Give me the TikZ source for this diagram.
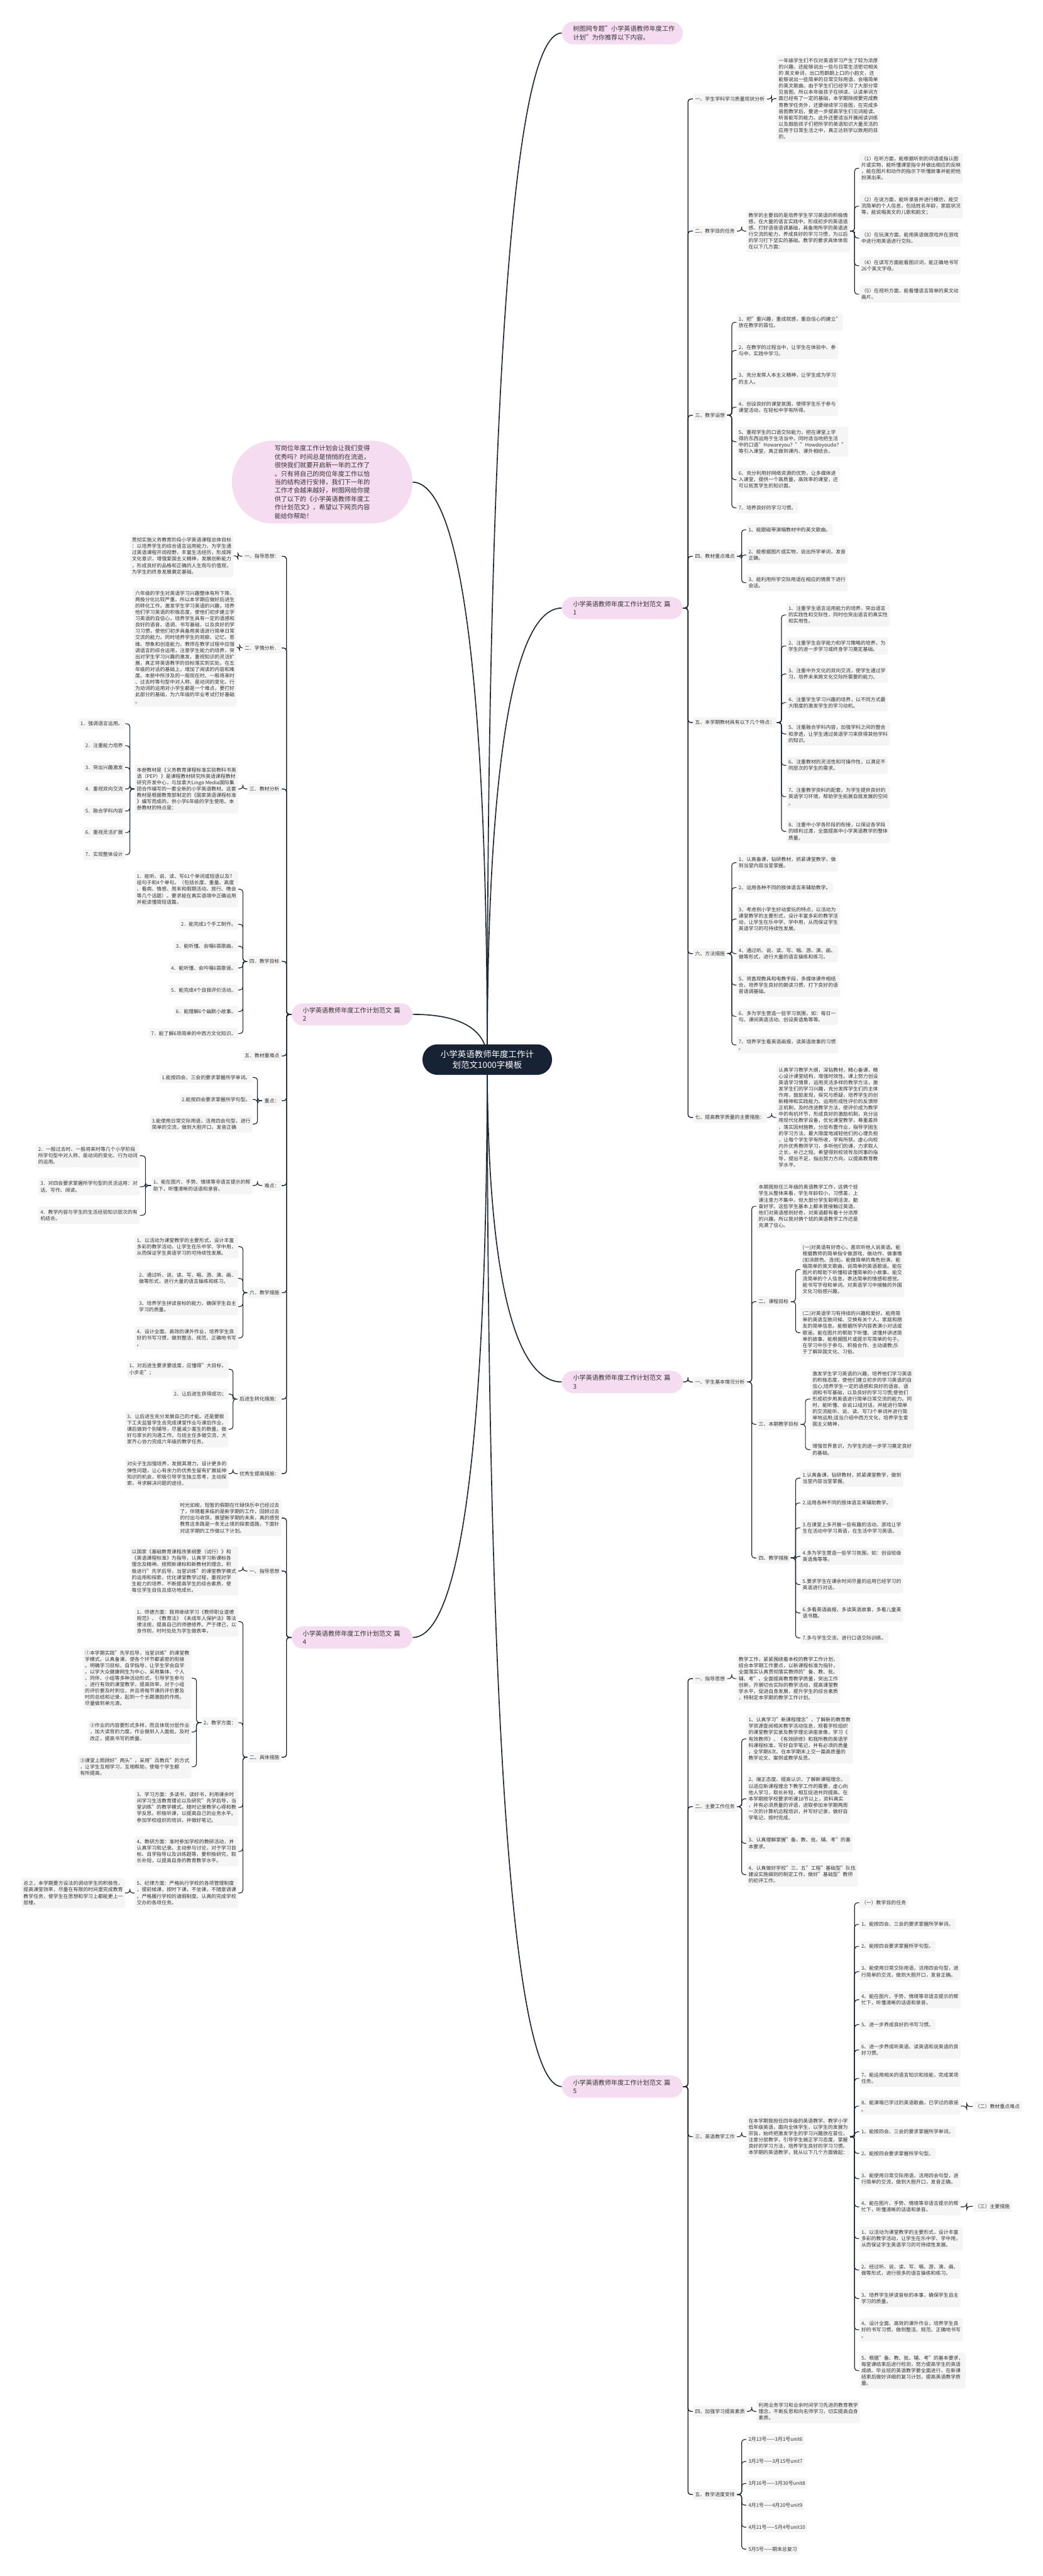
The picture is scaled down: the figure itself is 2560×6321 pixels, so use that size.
\documentclass[tikz,border=0pt]{standalone}
\usepackage{fontspec}
\setmainfont{Noto Sans CJK SC}
\usetikzlibrary{calc}
\pgfdeclarelayer{bg}
\pgfsetlayers{bg,main}
\definecolor{ln}{HTML}{1E2938}
\definecolor{txt}{HTML}{333333}
\definecolor{boxf}{HTML}{F5F5F5}
\definecolor{pinkf}{HTML}{F5DCF0}
\definecolor{rootf}{HTML}{172334}
\newcommand\fsS{\fontsize{12.2pt}{15.6pt}\selectfont}
\newcommand\fsM{\fontsize{15.6pt}{21pt}\selectfont}
\newcommand\fsI{\fontsize{15.6pt}{20.7pt}\selectfont}
\newcommand\fsL{\fontsize{20.8pt}{27pt}\selectfont}
\newcommand\rjoin[3]{\foreach \c in {#3}{\draw[#1] (#2.east) -| ($(#2.east)!.5!(\c.west)$) |- (\c.west);}}
\newcommand\ljoin[3]{\foreach \c in {#3}{\draw[#1] (#2.west) -| ($(#2.west)!.5!(\c.east)$) |- (\c.east);}}
\tikzset{
  bx/.style={font=\fsS, text=txt, fill=boxf, rounded corners=3pt, inner xsep=5pt, inner ysep=7.5pt, align=left},
  rb/.style={bx, anchor=west},
  lb/.style={bx, anchor=east},
  pinkn/.style={fill=pinkf, rounded corners=28pt, font=\fsM, text=txt, align=left, text width=242pt, inner xsep=27.5pt, inner ysep=10pt},
  rootn/.style={fill=rootf, text=white, font=\fsL, align=center, minimum width=318pt, minimum height=75pt, rounded corners=37pt, inner sep=0pt},
  trunk/.style={draw=ln, line width=2.6pt},
  lkA/.style={draw=ln, line width=2.2pt, rounded corners=7pt},
  lkB/.style={draw=ln, line width=1.8pt, rounded corners=7pt},
}
\begin{document}
\begin{tikzpicture}[x=1pt,y=-1pt]
\useasboundingbox (0,0) rectangle (2560,6321);
% ---------------- root ----------------
\node[rootn] (root) at (1196,2600) {小学英语教师年度工作计\\划范文1000字模板};
% ---------------- right: header ----------------
\node[pinkn, anchor=west] (hd) at (1379,81) {树图网专题"小学英语教师年度工作\\计划"为你推荐以下内容。};
% ---------------- 篇1 ----------------
\node[pinkn, anchor=west] (p1) at (1379,1492) {小学英语教师年度工作计划范文 篇\\1};
\node[rb] (a1) at (1701,243) {一、学生学科学习质量现状分析};
\node[rb] (a1t) at (1906,242) {一年级学生们不仅对英语学习产生了较为浓厚\\的兴趣，还能够说出一些与日常生活密切相关\\的 英文单词，出口而朗朗上口的小韵文，还\\能够说出一些简单的日常交际用语，会唱简单\\的英文歌曲。由于学生们已经学习了大部分常\\见音图，所以本年级孩子在拼读、认读单词方\\面已经有了一定的基础，本学期除按要完成教\\育教学任务外，还要继续学习音图，在完成多\\音图教学后，要进一步提高学生们见词能读、\\听音能写的能力。此外还要适当开展阅读训练\\以及鼓励孩子们把所学的英语知识大量灵活的\\应用于日常生活之中，真正达到学以致用的目\\的。};
\node[rb] (a2) at (1701,567) {二、教学目的任务};
\node[rb] (a2t) at (1832,567) {教学的主要目的是培养学生学习英语的积极情\\感，在大量的语言实践中，形成初步的英语语\\感、打好语音语调基础，具备用所学的英语进\\行交流的能力，养成良好的学习习惯，为以后\\的学习打下坚实的基础。教学的要求具体体现\\在以下几方面：};
\node[rb] (a2c1) at (2109,413) {（1）在听方面，能根据听到的词语或指认图\\片或实物，能听懂课堂指令并做出相应的反映\\，能在图片和动作的指示下听懂故事并能把他\\扮演出来。};
\node[rb] (a2c2) at (2109,506) {（2）在说方面，能听录音并进行模仿，能交\\流简单的个人信息，包括姓名年龄，家庭状况\\等，能说唱英文的儿歌和韵文；};
\node[rb] (a2c3) at (2109,584) {（3）在玩演方面，能用英语做游戏并在游戏\\中进行用英语进行交际。};
\node[rb] (a2c4) at (2109,652) {（4）在读写方面能看图识词，能正确地书写\\26个英文字母。};
\node[rb] (a2c5) at (2109,722) {（5）在视听方面，能看懂语言简单的英文动\\画片。};
\node[rb] (a3) at (1701,1019) {三、教学设想};
\node[rb] (a3c1) at (1808,791) {1、把"重兴趣，重成就感，重自信心的建立"\\放在教学的首位。};
\node[rb] (a3c2) at (1808,860) {2、在教学的过程当中，让学生在体验中、参\\与中、实践中学习。};
\node[rb] (a3c3) at (1808,929) {3、充分发挥人本主义精神，让学生成为学习\\的主人。};
\node[rb] (a3c4) at (1808,999) {4、创设良好的课堂氛围，使得学生乐于参与\\课堂活动，在轻松中学有所得。};
\node[rb] (a3c5) at (1808,1084) {5、重视学生的口语交际能力，把在课堂上学\\得的东西运用于生活当中，同时适当地把生活\\中的口语"Howareyou？""Howdoyoudo？"\\等引入课堂，真正做到课内、课外相结合。};
\node[rb] (a3c6) at (1808,1177) {6、充分利用好网络资源的优势，让多媒体进\\入课堂，提供一个高质量，高效率的课堂，还\\可以拓宽学生的知识面。};
\node[rb] (a3c7) at (1808,1246) {7、培养良好的学习习惯。};
\node[rb] (a4) at (1701,1365) {四、教材重点难点};
\node[rb] (a4c1) at (1832,1300) {1、能跟磁带演唱教材中的英文歌曲。};
\node[rb] (a4c2) at (1832,1362) {2、能根据图片或实物，说出所学单词，发音\\正确。};
\node[rb] (a4c3) at (1832,1430) {3、能利用所学交际用语在相应的情景下进行\\会话。};
\node[rb] (a5) at (1701,1773) {五、本学期教材具有以下几个特点：};
\node[rb] (a5c1) at (1930,1509) {1、注重学生语言运用能力的培养，突出语言\\的实践性和交际性，同时也突出语言的真实性\\和实用性。};
\node[rb] (a5c2) at (1930,1585) {2、注重学生自学能力和学习策略的培养，为\\学生的进一步学习或终身学习奠定基础。};
\node[rb] (a5c3) at (1930,1654) {3、注重中外文化的双向交流，使学生通过学\\习，培养未来跨文化交际所需要的能力。};
\node[rb] (a5c4) at (1930,1724) {4、注重学生学习兴趣的培养，以不同方式最\\大限度的激发学生的学习动机。};
\node[rb] (a5c5) at (1930,1801) {5、注重融合学科内容，加强学科之间的整合\\和渗透，让学生通过英语学习来获得其他学科\\的知识。};
\node[rb] (a5c6) at (1930,1878) {6、注重教材的灵活性和可操作性，以满足不\\同层次的学生的需求。};
\node[rb] (a5c7) at (1930,1955) {7、注重教学资料的配套，为学生提供良好的\\英语学习环境，帮助学生拓展自我发展的空间\\。};
\node[rb] (a5c8) at (1930,2040) {8、注重中小学各阶段的衔接，以保证各学段\\的顺利过渡，全面提高中小学英语教学的整体\\质量。};
\node[rb] (a6) at (1701,2340) {六、方法措施};
\node[rb] (a6c1) at (1808,2117) {1、认真备课，钻研教材，抓紧课堂教学，做\\到当堂内容当堂掌握。};
\node[rb] (a6c2) at (1808,2178) {2、运用各种不同的肢体语言来辅助教学。};
\node[rb] (a6c3) at (1808,2255) {3、考虑到小学生好动爱玩的特点，以活动为\\课堂教学的主要形式，设计丰富多彩的教学活\\动，让学生在乐中学、学中用，从而保证学生\\英语学习的可持续性发展。};
\node[rb] (a6c4) at (1808,2340) {4、通过听、说、读、写、唱、游、演、画、\\做等形式，进行大量的语言操练和练习。};
\node[rb] (a6c5) at (1808,2417) {5、将直观教具和电教手段，多媒体课件相结\\合，培养学生良好的朗读习惯，打下良好的语\\音语调基础。};
\node[rb] (a6c6) at (1808,2494) {6、多为学生营造一些学习氛围，如：每日一\\句、课间英语活动、创设英语角等等。};
\node[rb] (a6c7) at (1808,2564) {7、培养学生看英语画报，读英语故事的习惯\\。};
\node[rb] (a7) at (1701,2742) {七、提高教学质量的主要措施：};
\node[rb] (a7t) at (1906,2742) {认真学习教学大纲，深钻教材，精心备课，精\\心设计课堂结构，增强时效性。课上努力创设\\英语学习情景，运用灵活多样的教学方法，激\\发学生们的学习兴趣，充分发挥学生们的主体\\作用，鼓励发现，探究与质疑，培养学生的创\\新精神和实践能力。运用形成性评价的反馈矫\\正机制，及时改进教学方法，使评价成为教学\\中的有机环节，形成良好的激励机制，充分运\\用现代化教学设备，优化课堂教学，尊重差异\\，落实因材施教，分层布置作业，指导学困生\\的学习方法，最大限度地减轻他们的心理负担\\，让每个学生学有所收，学有所获。虚心向校\\内外优秀教师学习，多听他们的课，力求取人\\之长，补己之短。希望得到校领导及同事的指\\导，提出不足，指出努力方向，以提高教育教\\学水平。};
% ---------------- 篇3 ----------------
\node[pinkn, anchor=west] (p3) at (1379,3391) {小学英语教师年度工作计划范文 篇\\3};
\node[rb] (b1) at (1701,3391) {一、学生基本情况分析};
\node[rb] (b1t) at (1857,2960) {本期我担任三年级的英语教学工作，这俩个班\\学生从整体来看，学生年龄较小，习惯差，上\\课注意力不集中。但大部分学生聪明活泼、勤\\奋好学。这些学生基本上都未曾接触过英语，\\他们对英语感到好奇，对英语都有着十分浓厚\\的兴趣。所以我对俩个班的英语教学工作还是\\充满了信心。};
\node[rb] (b2) at (1857,3194) {二、课程目标};
\node[rb] (b2c1) at (1965,3115) {(一)对英语有好奇心，喜欢听他人说英语。能\\根据教师的简单指令做游戏、做动作、做事情\\(如涂颜色、连线)。能做简单的角色扮演，能\\唱简单的英文歌曲，说简单的英语歌谣。能在\\图片的帮助下听懂和读懂简单的小故事。能交\\流简单的个人信息，表达简单的情感和感觉。\\能书写字母和单词。对英语学习中接触的外国\\文化习俗感兴趣。};
\node[rb] (b2c2) at (1965,3270) {(二)对英语学习有持续的兴趣和爱好。能用简\\单的英语互致问候、交换有关个人、家庭和朋\\友的简单信息。能根据所学内容表演小对话或\\歌谣。能在图片的帮助下听懂、读懂并讲述简\\单的故事。能根据图片或提示写简单的句子。\\在学习中乐于参与、积极合作、主动请教;乐\\于了解异国文化、习俗。};
\node[rb] (b3) at (1857,3495) {三、本期教学目标};
\node[rb] (b3c1) at (1989,3433) {激发学生学习英语的兴趣，培养他们学习英语\\的积极态度，使他们建立初步的学习英语的自\\信心;培养学生一定的语感和良好的语音、语\\调和书写基础，以及良好的学习习惯;使他们\\形成初步用英语进行简单日常交流的能力。同\\时，能听懂、会说12组对话，并能进行简单\\的交流能听、说、读、写73个单词并进行简\\单地运用;适当介绍中西方文化，培养学生爱\\国主义精神，};
\node[rb] (b3c2) at (1989,3557) {增强世界意识，为学生的进一步学习奠定良好\\的基础。};
\node[rb] (b4) at (1857,3823) {四、教学措施};
\node[rb] (b4c1) at (1965,3627) {1.认真备课，钻研教材，抓紧课堂教学，做到\\当堂内容当堂掌握。};
\node[rb] (b4c2) at (1965,3688) {2.运用各种不同的肢体语言来辅助教学。};
\node[rb] (b4c3) at (1965,3749) {3.在课堂上多开展一些有趣的活动、游戏让学\\生在活动中学习英语，在生活中学习英语。};
\node[rb] (b4c4) at (1965,3819) {4.多为学生营造一些学习氛围，如：创设班级\\英语角等等。};
\node[rb] (b4c5) at (1965,3888) {5.要求学生在课余时间尽量的运用已经学习的\\英语进行对话。};
\node[rb] (b4c6) at (1965,3958) {6.多看英语画报，多读英语故事，多看儿童英\\语书籍。};
\node[rb] (b4c7) at (1965,4019) {7.多与学生交流，进行口语交际训练。};
% ---------------- 篇5 ----------------
\node[pinkn, anchor=west] (p5) at (1379,5120) {小学英语教师年度工作计划范文 篇\\5};
\node[rb] (c1) at (1701,4119) {一、指导思想};
\node[rb] (c1t) at (1808,4119) {教学工作，紧紧围绕着本校的教学工作计划，\\结合本学期工作要点，以新课程标准为指针，\\全面落实认真贯彻落实教师的"备、教、批、\\辅、考"。全面提高教育教学质量，突出工作\\创新，开展切合实际的教学活动，提高课堂教\\学水平，促进自身发展，提升学生的综合素质\\，特制定本学期的教学工作计划。};
\node[rb] (c2) at (1701,4433) {二、主要工作任务};
\node[rb] (c2c1) at (1832,4267) {1、认真学习"新课程理念"，了解新的教育教\\学资源查阅相关教学活动信息，观看学校组织\\的课堂教学实录及教学理论讲座录像，学习《\\有效教师》、《有效研修》和我所教的英语学\\科课程标准，写好自学笔记，并有必须的质量\\，全学期8次。在本学期末上交一篇高质量的\\教学论文、案例或教学反思。};
\node[rb] (c2c2) at (1832,4414) {2、端正态度、提高认识，了解新课程理念，\\以适应新课程理念下教学工作的需要，虚心向\\他人学习，取长补短，相互促进共同提高。在\\本学期按学校要求听课18节以上，资料真实\\，并有必须质量的评语，进取参加本学期两周\\一次的计算机远程培训，并写好记录，做好自\\学笔记，按时完成。};
\node[rb] (c2c3) at (1832,4523) {3、认真理解掌握"备、教、批、辅、考"的基\\本要求。};
\node[rb] (c2c4) at (1832,4600) {4、认真做好学校"三、五"工程"基础型"队伍\\建设实施细则的制定工作，做好"基础型"教师\\的初评工作。};
\node[rb] (c3) at (1701,5243) {三、英语教学工作};
\node[rb] (c3t) at (1832,5243) {在本学期我担任四年级的英语教学。教学小学\\低年级英语，面向全体学生，以学生的发展为\\宗旨，始终把激发学生的学习兴趣放在首位，\\注意分层教学，引导学生端正学习态度，掌握\\良好的学习方法，培养学生良好的学习习惯。\\本学期的英语教学，我从以下几个方面做起：};
\node[rb] (d1) at (2109,4669) {（一）教学目的任务};
\node[rb] (d2) at (2109,4722) {1、能按四会、三会的要求掌握所学单词。};
\node[rb] (d3) at (2109,4776) {2、能按四会要求掌握所学句型。};
\node[rb] (d4) at (2109,4838) {3、能使用日常交际用语，活用四会句型，进\\行简单的交流，做到大胆开口，发音正确。};
\node[rb] (d5) at (2109,4907) {4、能在图片、手势、情境等非语言提示的帮\\忙下，听懂清晰的话语和录音。};
\node[rb] (d6) at (2109,4968) {5、进一步养成良好的书写习惯。};
\node[rb] (d7) at (2109,5030) {6、进一步养成听英语、读英语和说英语的良\\好习惯。};
\node[rb] (d8) at (2109,5100) {7、能运用相关的语言知识和技能，完成某项\\任务。};
\node[rb] (d9) at (2109,5168) {8、能演唱已学过的英语歌曲，已学过的歌谣\\。};
\node[rb] (d10) at (2109,5231) {1、能按四会、三会的要求掌握所学单词。};
\node[rb] (d11) at (2109,5284) {2、能按四会要求掌握所学句型。};
\node[rb] (d12) at (2109,5346) {3、能使用日常交际用语，活用四会句型，进\\行简单的交流，做到大胆开口，发音正确。};
\node[rb] (d13) at (2109,5415) {4、能在图片、手势、情境等非语言提示的帮\\忙下，听懂清晰的话语和录音。};
\node[rb] (d14) at (2109,5493) {1、以活动为课堂教学的主要形式，设计丰富\\多彩的教学活动，让学生在乐中学、学中用，\\从而保证学生英语学习的可持续性发展。};
\node[rb] (d15) at (2109,5570) {2、经过听、说、读、写、唱、游、演、画、\\做等形式，进行很多的语言操练和练习。};
\node[rb] (d16) at (2109,5640) {3、培养学生拼读音标的本事，确保学生自主\\学习的质量。};
\node[rb] (d17) at (2109,5717) {4、设计全面、高效的课外作业，培养学生良\\好的书写习惯，做到整洁、规范、正确地书写\\。};
\node[rb] (d18) at (2109,5817) {5、根据"备、教、批、辅、考"的基本要求，\\每堂课结束后进行检测，努力提高学生的英语\\成绩。毕业班的英语教学要全面进行，在新课\\结束后做好详细的复习计划，提高英语教学质\\量。};
\node[rb] (e1) at (2388,5169) {（二）教材重点难点};
\node[rb] (e2) at (2388,5414) {（三）主要措施};
\node[rb] (c4) at (1701,5917) {四、加强学习提高素质};
\node[rb] (c4t) at (1857,5917) {利用业务学习和业余时间学习先进的教育教学\\理念，不断反思和向名师学习，切实提高自身\\素质。};
\node[rb] (c5) at (1701,6121) {五、教学进度安排};
\node[rb] (c5a) at (1832,5986) {2月13号——3月1号unit6};
\node[rb] (c5b) at (1832,6040) {3月2号——3月15号unit7};
\node[rb] (c5c) at (1832,6094) {3月16号——3月30号unit8};
\node[rb] (c5d) at (1832,6147) {4月1号——4月20号unit9};
\node[rb] (c5e) at (1832,6201) {4月21号——5月4号unit10};
\node[rb] (c5f) at (1832,6255) {5月5号——期末总复习};
% ---------------- left: intro ----------------
\node[fill=pinkf, rounded corners=100pt, minimum width=443pt, minimum height=203pt, font=\fsI, text=txt, align=left, inner sep=0pt] (intro) at (791,1183) {写岗位年度工作计划会让我们变得\\优秀吗？时间总是悄悄的在流逝，\\很快我们就要开启新一年的工作了\\。只有将自己的岗位年度工作以恰\\当的结构进行安排，我们下一年的\\工作才会越来越好，树图网给你提\\供了以下的《小学英语教师年度工\\作计划范文》，希望以下网页内容\\能给你帮助！};
% ---------------- 篇2 ----------------
\node[pinkn, anchor=east] (p2) at (1013,2489) {小学英语教师年度工作计划范文 篇\\2};
\node[lb] (f1) at (691,1365) {一、指导思想：};
\node[lb] (f1t) at (573,1364) {贯彻实施义务教育阶段小学英语课程总体目标\\：以培养学生的综合语言运用能力，为学生通\\过英语课程开阔视野，丰富生活经历，形成跨\\文化意识，增强爱国主义精神，发展创新能力\\，形成良好的品格和正确的人生观与价值观，\\为学生的终身发展奠定基础。};
\node[lb] (f2) at (691,1590) {二．学情分析．};
\node[lb] (f2t) at (581,1588) {六年级的学生对英语学习兴趣整体有所下降，\\两极分化比较严重。所以本学期应做好后进生\\的转化工作。激发学生学习英语的兴趣，培养\\他们学习英语的积极态度，使他们初步建立学\\习英语的自信心，培养学生具有一定的语感和\\良好的语音、语调、书写基础，以及良好的学\\习习惯，使他们初步具备用英语进行简单日常\\交流的能力。同时培养学生的观察、记忆、思\\维、想象和创造能力。教师在教学过程中应强\\调语言的综合运用，注意学生能力的培养，突\\出对学生学习兴趣的激发，重视知识的灵活扩\\展，真正将英语教学的目标落实到实处。在五\\年级的对话的基础上，增加了阅读的内容和难\\度。本册中所涉及的一般现在时、一般将来时\\、过去时等句型中对人称、是动词的变化、行\\为动词的运用对小学生都是一个难点，要打好\\此部分的基础，为六年级的毕业考试打好基础\\。};
\node[lb] (f3) at (691,1936) {三．教材分析};
\node[lb] (f3t) at (585,1936) {本册教材是《义务教育课程标准实验教科书英\\语（PEP）》是课程教材研究所英语课程教材\\研究开发中心，与加拿大Lingo Media国际集\\团合作编写的一套全新的小学英语教材。这套\\教材是根据教育部制定的《国家英语课程标准\\》编写而成的。供小学6年级的学生使用。本\\册教材的特点是：};
\node[lb] (f3c1) at (307,1776) {1．强调语言运用。};
\node[lb] (f3c2) at (307,1830) {2．注重能力培养};
\node[lb] (f3c3) at (307,1883) {3．突出兴趣激发};
\node[lb] (f3c4) at (307,1936) {4．重视双向交流};
\node[lb] (f3c5) at (307,1990) {5．融合学科内容};
\node[lb] (f3c6) at (307,2043) {6．重视灵活扩展};
\node[lb] (f3c7) at (307,2097) {7．实现整体设计};
\node[lb] (f4) at (691,2359) {四．教学目标};
\node[lb] (f4c1) at (585,2182) {1．能听、说、读、写61个单词或短语以及7\\组句子和4个单句。（包括长度、重量、高度\\、看病、情感、周末和假期活动、旅行、晚会\\等几个话题）。要求能在真实语境中正确运用\\并能读懂简短语篇。};
\node[lb] (f4c2) at (585,2268) {2．能完成1个手工制作。};
\node[lb] (f4c3) at (585,2322) {3．能听懂、会唱6首歌曲。};
\node[lb] (f4c4) at (585,2375) {4．能听懂、会吟唱6首歌谣。};
\node[lb] (f4c5) at (585,2429) {5．能完成4个自我评价活动。};
\node[lb] (f4c6) at (585,2482) {6．能理解6个幽默小故事。};
\node[lb] (f4c7) at (585,2536) {7．能了解6项简单的中西方文化知识。};
\node[lb] (f5) at (691,2591) {五．教材重难点};
\node[lb] (f6) at (691,2701) {重点：};
\node[lb] (f6c1) at (620,2644) {1.能按四会、三会的要求掌握所学单词。};
\node[lb] (f6c2) at (620,2698) {2.能按四会要求掌握所学句型。};
\node[lb] (f6c3) at (620,2758) {3.能使用日常交际用语，活用四会句型，进行\\简单的交流，做到大胆开口，发音正确};
\node[lb] (f7) at (691,2909) {难点：};
\node[lb] (f7t) at (620,2909) {1、能在图片、手势、情境等非语言提示的帮\\助下，听懂清晰的话语和录音。};
\node[lb] (f7c1) at (343,2836) {2．一般过去时、一般将来时等几个小学阶段\\所学句型中对人称、是动词的变化、行为动词\\的运用。};
\node[lb] (f7c2) at (343,2912) {3．对四会要求掌握所学句型的灵活运用：对\\话、写作、阅读。};
\node[lb] (f7c3) at (343,2982) {4．教学内容与学生的生活经验知识层次的有\\机结合。};
\node[lb] (f8) at (691,3172) {六．教学措施};
\node[lb] (f8c1) at (585,3059) {1、以活动为课堂教学的主要形式，设计丰富\\多彩的教学活动，让学生在乐中学、学中用，\\从而保证学生英语学习的可持续性发展。};
\node[lb] (f8c2) at (585,3137) {2、通过听、说、读、写、唱、游、演、画、\\做等形式，进行大量的语言操练和练习。};
\node[lb] (f8c3) at (585,3206) {3、培养学生拼读音标的能力，确保学生自主\\学习的质量。};
\node[lb] (f8c4) at (585,3283) {4、设计全面、高效的课外作业，培养学生良\\好的书写习惯，做到整洁、规范、正确地书写\\。};
\node[lb] (f9) at (691,3433) {后进生转化措施：};
\node[lb] (f9c1) at (561,3360) {1、对后进生要求要适度，应懂得"大目标，\\小步走"；};
\node[lb] (f9c2) at (561,3421) {2、让后进生获得成功；};
\node[lb] (f9c3) at (561,3507) {3、让后进生充分发展自己的才能。还是要狠\\下工夫监督学生去完成课堂作业与课后作业，\\课后做到个别辅导，尽量减少差生的数量。做\\好与家长的沟通工作，与班主任多做交流，大\\家齐心协力完成六年级的教学任务。};
\node[lb] (f10) at (691,3616) {优秀生提高措施：};
\node[lb] (f10t) at (561,3616) {对尖子生加强培养，发掘其潜力，设计更多的\\弹性问题，让心有余力的优秀生留有扩展延伸\\知识的机会，积极引导学生独立思考，主动探\\索，寻求解决问题的途径。};
% ---------------- 篇4 ----------------
\node[pinkn, anchor=east] (p4) at (1013,4018) {小学英语教师年度工作计划范文 篇\\4};
\node[lb] (g0) at (691,3725) {时光如梭，短暂的假期在忙碌快乐中已经过去\\了，伴随着来临的是新学期的工作，回顾过去\\的付出与收获，展望新学期的未来，真的感觉\\教育这条路是一条无止境的探索道路，下面针\\对这学期的工作做以下计划。};
\node[lb] (g1) at (691,3855) {一、指导思想};
\node[lb] (g1t) at (585,3855) {以国家《基础教育课程改革纲要（试行）》和\\《英语课程标准》为指导，认真学习新课标各\\理念及精神。按照新课标和新教材的理念，积\\极进行"先学后导，当堂训练"的课堂教学模式\\的运用和探索，优化课堂教学过程，重视对学\\生能力的培养，不断提高学生的综合素质，使\\每位学生自信且成功地成长。};
\node[lb] (g2) at (691,4312) {二、具体措施};
\node[lb] (g2c1) at (585,3979) {1、师德方面：我将继续学习《教师职业道德\\规范》、《教育法》《未成年人保护法》等法\\律法规，提高自己的师德修养。严于律己，以\\身作则，时时处处为学生做表率。};
\node[lb] (g2c2) at (585,4227) {2、教学方面：};
\node[lb] (h1) at (470,4118) {①本学期实践"先学后导，当堂训练"的课堂教\\学模式。认真备课，使各个环节都紧密的衔接\\。明确学习目标、自学指导，让学生学会自学\\。以学大众健康网生为中心，采用集体、个人\\、同伴、小组等多种活动形式，引导学生参与\\，进行有效的课堂教学，提高效率。对于小组\\的评价要及时到位，并且将每节课的评价要及\\时的总结和记录，起到一个长期激励的作用。\\尽量做到单元清。};
\node[lb] (h2) at (470,4250) {②作业的内容要形式多样，而且体现分层作业\\，加大读背的力度。作业做到人人面批，及时\\改正，提高书写的质量。};
\node[lb] (h3) at (470,4335) {③课堂上照顾好"两头"，采用"兵教兵"的方式\\，让学生互相学习，互相帮助，使每个学生都\\有所提高。};
\node[lb] (g2c3) at (585,4435) {3、学习方面：多读书，读好书，利用课余时\\间学习生活教育理论以及研究"先学后导，当\\堂训练"的教学模式。随时记录教学心得和教\\学反思。积极听课，以提高自己的业务水平。\\参加学校组织的培训，并做好笔记。};
\node[lb] (g2c4) at (585,4543) {4、教研方面：准时参加学校的教研活动，并\\认真学习和记录。主动参与讨论，对于学习目\\标、自学指导以及训练题等，要积极研究，取\\长补短，以提高自身的教育教学水平。};
\node[lb] (g2c5) at (585,4645) {5、纪律方面：严格执行学校的各项管理制度\\，提前候课，按时下课，不坐课，不随意调课\\。严格履行学校的请假制度。认真的完成学校\\交办的各项任务。};
\node[lb] (g2c6) at (307,4645) {总之，本学期要方设法的调动学生的积极性，\\提高课堂效率，尽量在有限的时间里完成教育\\教学任务，使学生在思想和学习上都能更上一\\层楼。};
% ---------------- connectors ----------------
\begin{pgfonlayer}{bg}
\fill[white] (0,0) rectangle (2560,6321);
\draw[trunk] (root.center) .. controls (1196,1089) and (1251,81) .. (hd.west);
\draw[trunk] (root.center) .. controls (1196,1935) and (1251,1492) .. (p1.west);
\draw[trunk] (root.center) .. controls (1196,3075) and (1251,3391) .. (p3.west);
\draw[trunk] (root.center) .. controls (1196,4112) and (1251,5120) .. (p5.west);
\draw[trunk] (root.center) .. controls (1196,1751) and (1141,1185) .. (intro.east);
\draw[trunk] (root.center) .. controls (1196,2533) and (1141,2489) .. (p2.west -| p2.east);
\draw[trunk] (root.center) .. controls (1196,3451) and (1141,4018) .. (p4.east);
% 篇1
\rjoin{lkA}{p1}{a1,a2,a3,a4,a5,a6,a7}
\rjoin{lkB}{a1}{a1t}
\rjoin{lkB}{a2}{a2t}
\rjoin{lkB}{a2t}{a2c1,a2c2,a2c3,a2c4,a2c5}
\rjoin{lkB}{a3}{a3c1,a3c2,a3c3,a3c4,a3c5,a3c6,a3c7}
\rjoin{lkB}{a4}{a4c1,a4c2,a4c3}
\rjoin{lkB}{a5}{a5c1,a5c2,a5c3,a5c4,a5c5,a5c6,a5c7,a5c8}
\rjoin{lkB}{a6}{a6c1,a6c2,a6c3,a6c4,a6c5,a6c6,a6c7}
\rjoin{lkB}{a7}{a7t}
% 篇3
\rjoin{lkA}{p3}{b1}
\rjoin{lkB}{b1}{b1t,b2,b3,b4}
\rjoin{lkB}{b2}{b2c1,b2c2}
\rjoin{lkB}{b3}{b3c1,b3c2}
\rjoin{lkB}{b4}{b4c1,b4c2,b4c3,b4c4,b4c5,b4c6,b4c7}
% 篇5
\rjoin{lkA}{p5}{c1,c2,c3,c4,c5}
\rjoin{lkB}{c1}{c1t}
\rjoin{lkB}{c2}{c2c1,c2c2,c2c3,c2c4}
\rjoin{lkB}{c3}{c3t}
\rjoin{lkB}{c3t}{d1,d2,d3,d4,d5,d6,d7,d8,d9,d10,d11,d12,d13,d14,d15,d16,d17,d18}
\rjoin{lkB}{d9}{e1}
\rjoin{lkB}{d13}{e2}
\rjoin{lkB}{c4}{c4t}
\rjoin{lkB}{c5}{c5a,c5b,c5c,c5d,c5e,c5f}
% 篇2
\ljoin{lkA}{p2}{f1,f2,f3,f4,f5,f6,f7,f8,f9,f10}
\ljoin{lkB}{f1}{f1t}
\ljoin{lkB}{f2}{f2t}
\ljoin{lkB}{f3}{f3t}
\ljoin{lkB}{f3t}{f3c1,f3c2,f3c3,f3c4,f3c5,f3c6,f3c7}
\ljoin{lkB}{f4}{f4c1,f4c2,f4c3,f4c4,f4c5,f4c6,f4c7}
\ljoin{lkB}{f6}{f6c1,f6c2,f6c3}
\ljoin{lkB}{f7}{f7t}
\ljoin{lkB}{f7t}{f7c1,f7c2,f7c3}
\ljoin{lkB}{f8}{f8c1,f8c2,f8c3,f8c4}
\ljoin{lkB}{f9}{f9c1,f9c2,f9c3}
\ljoin{lkB}{f10}{f10t}
% 篇4
\ljoin{lkA}{p4}{g0,g1,g2}
\ljoin{lkB}{g1}{g1t}
\ljoin{lkB}{g2}{g2c1,g2c2,g2c3,g2c4,g2c5}
\ljoin{lkB}{g2c2}{h1,h2,h3}
\ljoin{lkB}{g2c5}{g2c6}
\end{pgfonlayer}
\end{tikzpicture}
\end{document}
